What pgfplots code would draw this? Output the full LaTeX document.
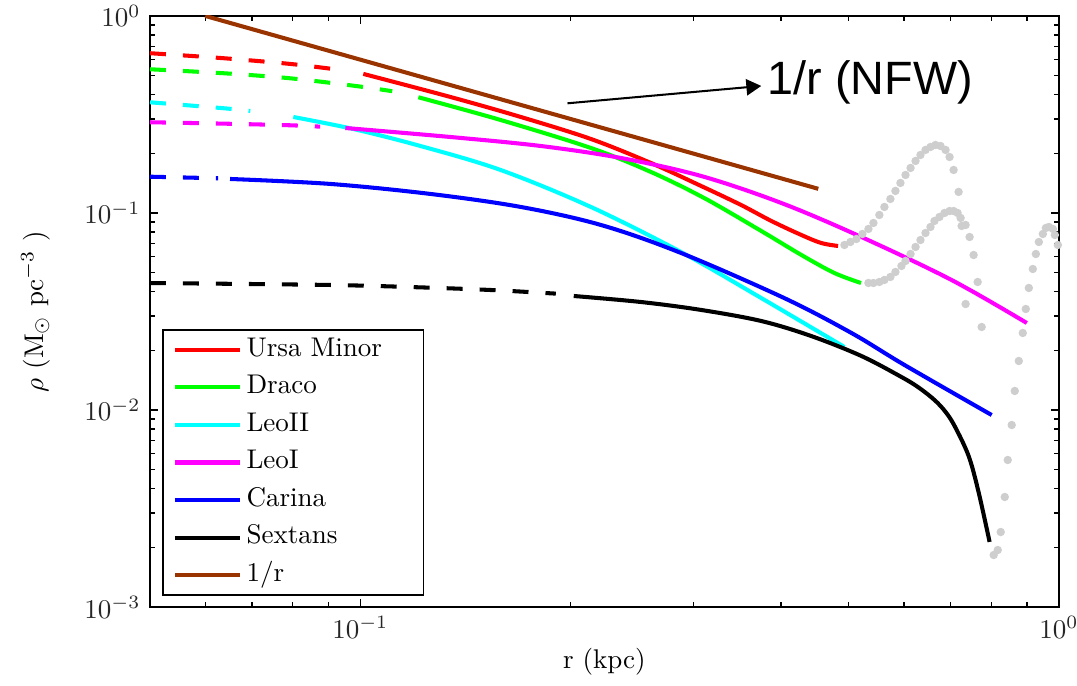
\documentclass[border=0pt]{standalone}
\usepackage{fontspec}
\newfontfamily\arialfont{Liberation Sans}
\usepackage{pgfplots}
\pgfplotsset{compat=1.18}
\usetikzlibrary{arrows.meta}

\definecolor{umi}{RGB}{255,0,0}
\definecolor{dra}{RGB}{0,255,0}
\definecolor{leoii}{RGB}{0,255,255}
\definecolor{leoi}{RGB}{255,0,255}
\definecolor{car}{RGB}{0,0,255}
\definecolor{nfw}{RGB}{153,51,0}
\definecolor{dots}{RGB}{206,206,206}

\tikzset{dsh/.style={dash pattern=on 5.9pt off 6.3pt}}

\begin{document}
\begin{tikzpicture}
\begin{loglogaxis}[
  scale only axis, width=336.3pt, height=218.7pt,
  xmin=0.05, xmax=1, ymin=1e-3, ymax=1,
  tick align=inside, tick pos=both,
  major tick length=3pt, minor tick length=1.7pt,
  axis line style={line width=0.8pt},
  tick style={black, line width=0.5pt},
  tick label style={black!85},
  xlabel={r (kpc)}, ylabel={$\rho$ (M$_\odot$ pc$^{-3}$ )},
  xlabel style={at={(axis description cs:0.5,-0.093)}, anchor=center},
  ylabel style={at={(axis description cs:-0.126,0.5)}, anchor=center},
  legend style={at={(0.0132,0.0186)}, anchor=south west, draw=black, line width=0.6pt,
    inner xsep=3.7pt, inner ysep=2.7pt, row sep=4.5pt, column sep=1.8pt,
    nodes={inner sep=0pt, text height=7pt, text depth=2.4pt, text width=61.8pt, align=left}},
  legend cell align=left,
  legend image code/.code={\draw[#1] (0pt,0pt) -- (24pt,0pt);},
  every axis plot/.append style={line width=1.5pt},
]

% grey dotted continuations
\addplot[only marks, mark=*, mark size=0.75pt, color=dots, forget plot] coordinates {
(0.4932,0.06879)(0.5030,0.07124)(0.5131,0.07379)(0.5233,0.07823)(0.5338,0.08296)(0.5427,0.08897)
(0.5534,0.09768)(0.5627,0.1073)(0.5739,0.1178)(0.5835,0.1294)(0.5932,0.1420)(0.6032,0.1559)
(0.6133,0.1692)(0.6235,0.1837)(0.6337,0.1970)(0.6443,0.2089)(0.6550,0.2163)(0.6659,0.2214)
(0.6770,0.2188)(0.6883,0.2089)(0.6975,0.1924)(0.7068,0.1653)(0.7186,0.1279)(0.7354,0.03451)
(0.5338,0.04412)(0.5427,0.04412)(0.5534,0.04464)(0.5627,0.04570)(0.5739,0.04733)(0.5835,0.05017)
(0.5952,0.05383)(0.6032,0.05707)(0.6133,0.06191)(0.6235,0.06721)(0.6337,0.07291)(0.6443,0.07914)
(0.6550,0.08490)(0.6637,0.09108)(0.6747,0.09544)(0.6860,0.1000)(0.6975,0.1023)(0.7068,0.1023)
(0.7162,0.1000)(0.7234,0.09432)(0.7258,0.08590)(0.7354,0.08692)(0.7452,0.07552)(0.7551,0.06119)
(0.7652,0.04464)(0.7754,0.02638)
(0.8067,0.001837)(0.8175,0.001947)(0.8256,0.002402)(0.8366,0.003618)(0.8449,0.005575)
(0.8561,0.008390)(0.8647,0.01249)(0.8762,0.01773)(0.8878,0.02460)(0.8967,0.03256)(0.9057,0.04162)
(0.9177,0.05196)(0.9269,0.06191)(0.9361,0.07124)(0.9485,0.07823)(0.9580,0.08393)(0.9675,0.08490)
(0.9804,0.08296)(0.9869,0.07732)(0.9967,0.06879)
};

% dashed inner parts
\addplot[umi, dsh, smooth, forget plot] coordinates {(0.05,0.647)(0.0638,0.610)(0.0793,0.571)(0.0906,0.540)};
\addplot[dra, dsh, smooth, forget plot] coordinates {(0.05,0.5363)(0.0638,0.5118)(0.0793,0.4828)(0.0984,0.4413)(0.1111,0.415)};
\addplot[leoii, dsh, smooth, forget plot] coordinates {(0.05,0.3646)(0.0638,0.340)(0.0696,0.3294)};
\addplot[leoi, dsh, smooth, forget plot] coordinates {(0.05,0.2887)(0.0638,0.2840)(0.0793,0.2787)(0.0876,0.2742)};
\addplot[car, dsh, smooth, forget plot] coordinates {(0.05,0.1528)(0.0626,0.1500)};
\addplot[black, dsh, smooth, forget plot] coordinates {(0.05,0.0441)(0.0909,0.0431)(0.1260,0.04176)(0.1567,0.04052)(0.1905,0.03896)};

% solid parts
\addplot[umi, smooth, tension=0.55] coordinates {
(0.101,0.508)(0.1346,0.3880)(0.1697,0.3071)(0.2138,0.2375)(0.2606,0.1794)(0.3075,0.1371)(0.3508,0.1098)(0.3876,0.0911)(0.428,0.0773)(0.457,0.0704)(0.483,0.068)};
\addlegendentry{Ursa Minor}
\addplot[dra, smooth, tension=0.55] coordinates {
(0.1211,0.3867)(0.1588,0.2965)(0.2138,0.2138)(0.2606,0.1615)(0.3105,0.1192)(0.375,0.0810)(0.428,0.0612)(0.477,0.0496)(0.521,0.0441)};
\addlegendentry{Draco}
\addplot[leoii, smooth, tension=0.55] coordinates {
(0.0802,0.307)(0.0977,0.2669)(0.1219,0.2188)(0.1588,0.1653)(0.2138,0.1073)(0.2877,0.0634)(0.375,0.0370)(0.4932,0.02088)};
\addlegendentry{LeoII}
\addplot[leoi, smooth, tension=0.55] coordinates {
(0.0952,0.270)(0.1346,0.2430)(0.1812,0.2188)(0.2360,0.1902)(0.3075,0.1541)(0.4005,0.1124)(0.5217,0.0755)(0.702,0.0457)(0.8997,0.02764)};
\addlegendentry{LeoI}
\addplot[car, smooth, tension=0.55] coordinates {
(0.0651,0.1488)(0.0906,0.1404)(0.1260,0.1249)(0.1697,0.1073)(0.221,0.08692)(0.2877,0.0627)(0.4044,0.0370)(0.5047,0.0246)(0.6012,0.01692)(0.8013,0.00943)};
\addlegendentry{Carina}
\addplot[black, smooth, tension=0.55] coordinates {
(0.2021,0.0379)(0.2522,0.03533)(0.3075,0.0322)(0.375,0.02829)(0.4420,0.02374)(0.5217,0.01879)(0.5953,0.0147)(0.6300,0.0130)(0.6637,0.01124)(0.6880,0.00980)(0.7093,0.00829)(0.7428,0.00584)(0.7674,0.00384)(0.796,0.00214)};
\addlegendentry{Sextans}
\addplot[nfw] coordinates {(0.06,1.0)(0.4525,0.1326)};
\addlegendentry{1/r}

\draw[line width=0.75pt, -{Triangle[length=5.5pt,width=6pt]}] (axis cs:0.1980,0.3603) -- (axis cs:0.3750,0.4413);
\node[anchor=base west, inner sep=0pt, font=\arialfont\fontsize{17.3}{20}\selectfont] at (axis cs:0.3823,0.3972) {1/r (NFW)};
\end{loglogaxis}
\pgfresetboundingbox
\path (-55.5pt,-29.2pt) rectangle (343pt,224.6pt);
\end{tikzpicture}
\end{document}
